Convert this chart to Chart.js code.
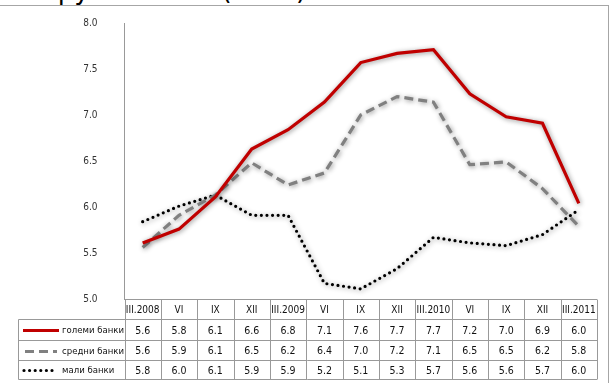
<!DOCTYPE html>
<html>
<head>
<meta charset="utf-8">
<script src="https://cdn.jsdelivr.net/npm/chart.js@4/dist/chart.umd.min.js"></script>
<style>
  html, body { margin:0; padding:0; background:#fff; overflow:hidden; }
  #wrap { position:relative; width:613px; height:383px; overflow:hidden; }
  #frame { position:absolute; left:-5px; top:5px; width:614px; height:400px; border:1.5px solid #a6a6a6; box-sizing:border-box; }
  #title { position:absolute; left:44px; top:-23px; font:26px/26px "DejaVu Sans", sans-serif; color:#000; white-space:nowrap; }
  canvas { position:absolute; left:0; top:0; }
</style>
</head>
<body>
<div id="wrap">
  <div id="title">групи банки (во %)</div>
  <div id="frame"></div>
  <canvas id="c" width="613" height="383"></canvas>
</div>
<script>
const periods = ["III.2008","VI","IX","XII","III.2009","VI","IX","XII","III.2010","VI","IX","XII","III.2011"];
const seriesNames = ["големи банки","средни банки","мали банки"];
const big   = [5.61, 5.76, 6.11, 6.63, 6.84, 7.14, 7.57, 7.67, 7.71, 7.23, 6.98, 6.91, 6.04];
const mid   = [5.56, 5.91, 6.13, 6.48, 6.24, 6.37, 7.00, 7.20, 7.14, 6.46, 6.49, 6.20, 5.79];
const small = [5.84, 6.01, 6.13, 5.91, 5.91, 5.17, 5.11, 5.33, 5.67, 5.61, 5.58, 5.70, 5.97];
const yTicks = [5.0, 5.5, 6.0, 6.5, 7.0, 7.5, 8.0];

const FONT = '"DejaVu Sans Condensed", "DejaVu Sans", sans-serif';

const shadow = {
  id:"shadow",
  beforeDatasetDraw(chart){
    const ctx = chart.ctx;
    ctx.save();
    ctx.shadowColor = "rgba(0,0,0,0.45)";
    ctx.shadowBlur = 5;
    ctx.shadowOffsetX = 1;
    ctx.shadowOffsetY = 1;
  },
  afterDatasetDraw(chart){ chart.ctx.restore(); }
};

// data table under the plot, aligned to the category columns
const dataTable = {
  id:"dataTable",
  afterDraw(chart){
    const ctx = chart.ctx;
    const a = chart.chartArea;
    const n = periods.length;
    const colW = (a.right - a.left) / n;
    const top = Math.round(a.bottom) + 0.5;
    const rows = [top, top+20, top+41, top+61, top+80];
    const legL = 18.5;
    ctx.save();
    ctx.strokeStyle = "#999";
    ctx.lineWidth = 1;
    ctx.beginPath();
    ctx.moveTo(a.left, rows[0]); ctx.lineTo(a.right, rows[0]);
    for(let r=1;r<rows.length;r++){ ctx.moveTo(legL, rows[r]); ctx.lineTo(a.right, rows[r]); }
    for(let i=0;i<=n;i++){
      const x = Math.round(a.left + i*colW) + 0.5;
      ctx.moveTo(x, rows[0]); ctx.lineTo(x, rows[4]);
    }
    ctx.moveTo(legL, rows[1]); ctx.lineTo(legL, rows[4]);
    ctx.stroke();

    ctx.fillStyle = "#111";
    ctx.textAlign = "center";
    ctx.textBaseline = "middle";
    ctx.font = "10px " + FONT;
    periods.forEach((p,i)=>{
      ctx.fillText(p, a.left + (i+0.5)*colW, (rows[0]+rows[1])/2 + 1);
    });
    ctx.font = "10.5px " + FONT;
    chart.data.datasets.forEach((ds,r)=>{
      const cy = (rows[r+1]+rows[r+2])/2 + 1;
      ds.data.forEach((v,i)=>{
        ctx.fillText(v.toFixed(1), a.left + (i+0.5)*colW, cy);
      });
      // legend key
      ctx.save();
      ctx.strokeStyle = ds.borderColor;
      ctx.lineWidth = ds.borderWidth;
      ctx.lineCap = ds.borderCapStyle || "butt";
      ctx.setLineDash(ds.borderDash || []);
      ctx.beginPath();
      const y0 = Math.round(cy) - 0.5;
      if(r===0){ ctx.moveTo(23, y0); ctx.lineTo(59, y0); }
      else if(r===1){ ctx.moveTo(25, y0); ctx.lineTo(57, y0); }
      else { ctx.moveTo(24, y0); ctx.lineTo(56, y0); }
      ctx.stroke();
      ctx.restore();
      ctx.textAlign = "left";
      ctx.font = "9.5px " + FONT;
      ctx.fillText(ds.label, 62, cy);
      ctx.textAlign = "center";
      ctx.font = "10.5px " + FONT;
    });
    ctx.restore();
  }
};

new Chart(document.getElementById("c"), {
  type:"line",
  data:{
    labels: periods,
    datasets:[
      { label:seriesNames[0], data:big, borderColor:"#c00000", borderWidth:3.2, pointRadius:0, tension:0, fill:false },
      { label:seriesNames[1], data:mid, borderColor:"#808080", borderWidth:3.2, borderDash:[9,5], pointRadius:0, tension:0, fill:false },
      { label:seriesNames[2], data:small, borderColor:"#000000", borderWidth:3.2, borderDash:[0,5.6], borderCapStyle:"round", pointRadius:0, tension:0, fill:false }
    ]
  },
  options:{
    responsive:false,
    animation:false,
    devicePixelRatio:1,
    layout:{ padding:{ left:0, top:23, right:16, bottom:84 } },
    plugins:{ legend:{display:false}, tooltip:{enabled:false}, title:{display:false} },
    scales:{
      x:{ display:false, offset:true },
      y:{
        min:5, max:8,
        afterBuildTicks(s){ s.ticks = yTicks.map(v=>({value:v})); },
        afterFit(s){ s.width = 124.5; s.paddingTop = 0; s.paddingBottom = 0; },
        grid:{ display:false, drawTicks:false },
        border:{ display:true, color:"#999", width:1 },
        ticks:{ padding:27, color:"#333", font:{ size:10, family:FONT }, callback:v=>Number(v).toFixed(1) }
      }
    }
  },
  plugins:[shadow, dataTable]
});
</script>
</body>
</html>
